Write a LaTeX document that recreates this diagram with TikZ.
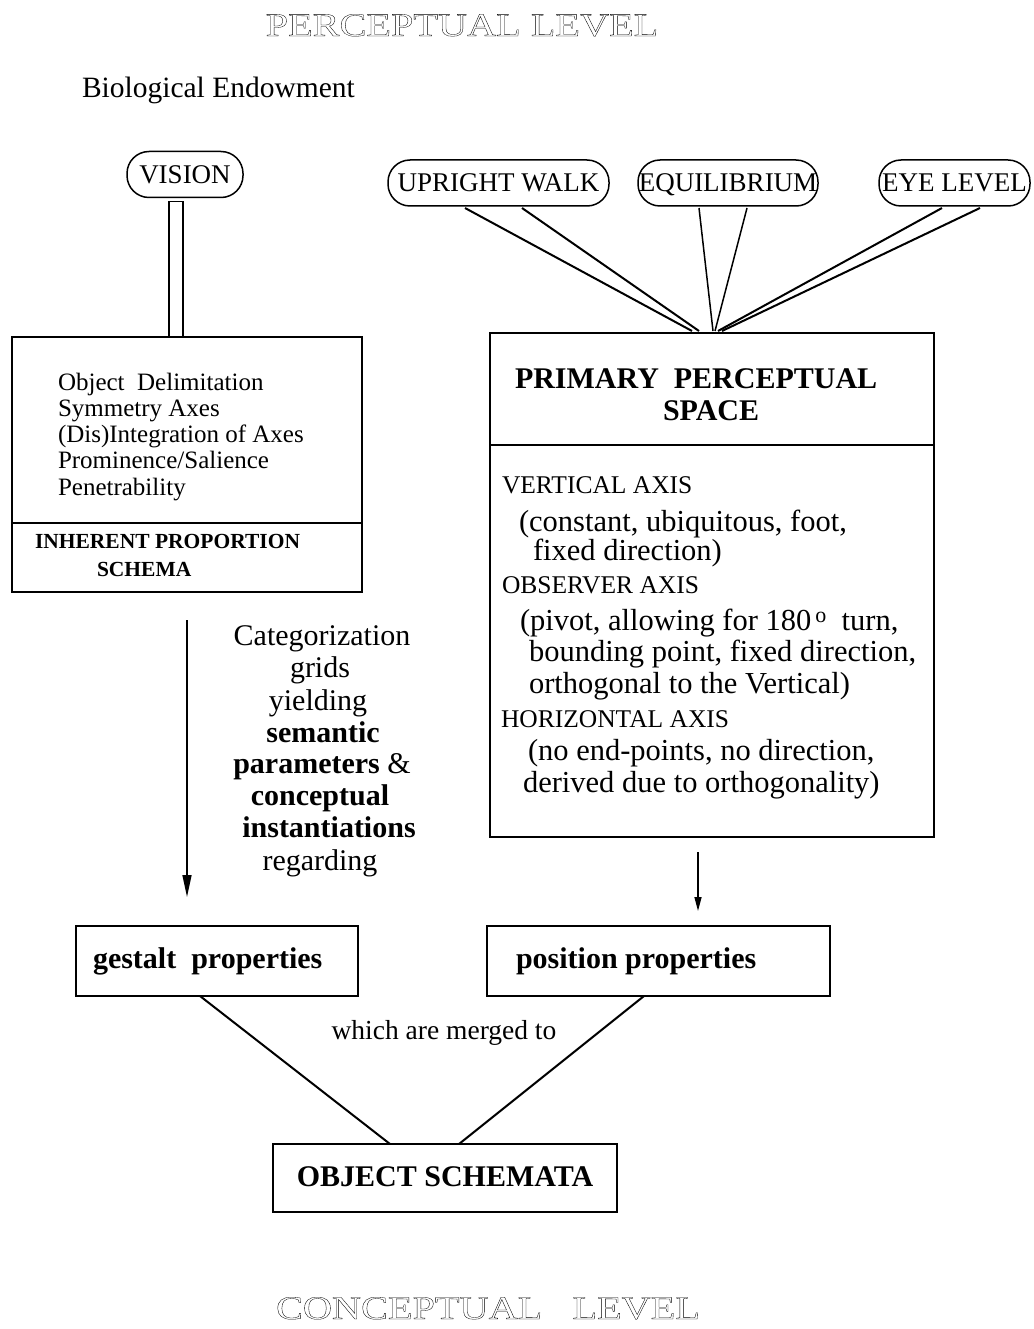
\documentclass[tikz,border=0pt]{standalone}
\usepackage{fontspec}
\setmainfont{Liberation Serif}
\usetikzlibrary{calc,arrows.meta}
% outlined (hollow) letters for the level titles
\newcommand\hollowtext[1]{\special{pdf:literal direct 1 Tr 0.3 w}#1\special{pdf:literal direct 0 Tr}}
\newcommand\fs[1]{\fontsize{#1}{#1}\selectfont}

\begin{document}
\begin{tikzpicture}[x=1pt,y=-1pt,
  every node/.style={inner sep=0pt, outer sep=0pt},
  frame/.style={draw, line width=1.8pt},
  pill/.style={draw, line width=1.5pt, rounded corners=22pt, minimum height=46pt,
               text height=18pt, text depth=0pt, font=\fs{27}},
  link/.style={line width=2pt},
  thinlink/.style={line width=1.5pt},
  txt/.style={anchor=base west},
  ctr/.style={anchor=base},
  body/.style={font=\fs{25}},
  paren/.style={font=\fs{30.5}},
  axislabel/.style={font=\fs{25.5}},
  cat/.style={font=\fs{30}},
  catb/.style={font=\fs{30}\bfseries},
  heading/.style={font=\fs{30}\bfseries},
  level/.style={font=\fs{33}}
]
\useasboundingbox (0,0) rectangle (1033,1329);

% ---------- titles ----------
\node[ctr, level] (perc) at (462,36) {\scalebox{1.22}[1]{\hollowtext{PERCEPTUAL LEVEL}}};
\node[ctr, level] (conc) at (488,1319) {\scalebox{1.22}[1]{\hollowtext{CONCEPTUAL\ \ \ LEVEL}}};
\node[txt, font=\fs{29.5}] (bio) at (82,98) {Biological Endowment};

% ---------- endowment ovals ----------
\node[pill, minimum width=116pt] (vision) at (185,174.5) {VISION};
\node[pill, minimum width=221pt] (uw) at (498.5,183) {UPRIGHT WALK};
\node[pill, minimum width=180pt] (eq) at (728,183) {EQUILIBRIUM};
\node[pill, minimum width=151pt] (el) at (954.5,183) {EYE LEVEL};

% ---------- inherent proportion schema ----------
\node[frame, minimum width=350pt, minimum height=255pt] (ipbox) at (187,464.5) {};
\coordinate (ldiv) at (12,523);
\draw[frame] (ldiv) -- (ldiv -| ipbox.east);
\node[txt, body] (g1) at (58,390) {Object\ \ Delimitation};
\node[txt, body] (g2) at (58,416) {Symmetry Axes};
\node[txt, body] (g3) at (58,442) {(Dis)Integration of Axes};
\node[txt, body] (g4) at (58,468) {Prominence/Salience};
\node[txt, body] (g5) at (58,495) {Penetrability};
\node[txt, font=\fs{21.5}\bfseries] (ips1) at (35,548) {INHERENT PROPORTION};
\node[txt, font=\fs{21.5}\bfseries] (ips2) at (97,576) {SCHEMA};

% vision feeds the schema through a hollow bar
\draw[line width=1.5pt] ($(vision.south)+(-16,4)$) rectangle ($(ipbox.north)+(-4,0)$);

% ---------- primary perceptual space ----------
\node[frame, minimum width=444pt, minimum height=504pt] (pps) at (712,585) {};
\coordinate (rdiv) at (490,445);
\draw[frame] (rdiv) -- (rdiv -| pps.east);
\node[txt, heading] (pp1) at (515,388) {PRIMARY\ \ PERCEPTUAL};
\node[txt, heading] (pp2) at (663,420) {SPACE};

\node[txt, axislabel] (va) at (502,493) {VERTICAL AXIS};
\node[txt, paren] (va1) at (519,531) {(constant, ubiquitous, foot,};
\node[txt, paren] (va2) at (533,560) {fixed direction)};
\node[txt, axislabel] (oa) at (502,593) {OBSERVER AXIS};
\node[txt, paren] (oa1) at (520,630) {(pivot, allowing for 180\kern4pt\raisebox{8pt}{\fs{22}o}\ \ turn,};
\node[txt, paren] (oa2) at (529,661) {bounding point, fixed direction,};
\node[txt, paren] (oa3) at (529,693) {orthogonal to the Vertical)};
\node[txt, axislabel] (ha) at (501,727) {HORIZONTAL AXIS};
\node[txt, paren] (ha1) at (528,760) {(no end-points, no direction,};
\node[txt, paren] (ha2) at (523,792) {derived due to orthogonality)};

% converging lines from the endowment ovals
\draw[link] ($(uw.south)+(-33.5,2)$) -- ($(pps.north)+(-20,-2)$);
\draw[link] ($(uw.south)+(23.5,2)$) -- ($(pps.north)+(-13,-2)$);
\draw[thinlink] ($(eq.south)+(-29,2)$) -- ($(pps.north)+(1,-2)$);
\draw[thinlink] ($(eq.south)+(19,2)$) -- ($(pps.north)+(3,-2)$);
\draw[link] ($(el.south)+(-12.5,2)$) -- ($(pps.north)+(6,-2)$);
\draw[link] ($(el.south)+(25.5,2)$) -- ($(pps.north)+(10,-2)$);

% ---------- categorization text ----------
\node[ctr, cat] (c1) at (322,645) {Categorization};
\node[ctr, cat] (c2) at (320,677) {grids};
\node[ctr, cat] (c3) at (318,710) {yielding};
\node[ctr, catb] (c4) at (323,742) {semantic};
\node[ctr, cat] (c5) at (322,773) {\textbf{parameters} \&};
\node[ctr, catb] (c6) at (320,805) {conceptual};
\node[ctr, catb] (c7) at (329,837) {instantiations};
\node[ctr, cat] (c8) at (320,870) {regarding};

% ---------- properties ----------
\node[frame, minimum width=282pt, minimum height=70pt] (gestalt) at (217,961) {};
\node[txt, heading] (gt) at (93,968) {gestalt\ \ properties};
\node[frame, minimum width=343pt, minimum height=70pt] (position) at (658.5,961) {};
\node[txt, heading] (pt) at (516,968) {position properties};

\coordinate (la1) at (187,620);
\coordinate (la2) at (187,897);
\draw[line width=1.5pt, -{Triangle[length=22pt,width=9pt]}] (la1) -- (la2);
\coordinate (ra1) at (698,852);
\coordinate (ra2) at (698,911);
\draw[line width=1.5pt, -{Triangle[length=14pt,width=7pt]}] (ra1) -- (ra2);

% ---------- object schemata ----------
\node[frame, minimum width=344pt, minimum height=68pt] (obj) at (445,1178) {};
\node[ctr, heading] (ot) at (445,1186) {OBJECT SCHEMATA};
\node[ctr, font=\fs{27.5}] (merge) at (444,1039) {which are merged to};
\draw[link] ($(gestalt.south)+(-17,0)$) -- ($(obj.north)+(-55,0)$);
\draw[link] ($(position.south)+(-14.5,0)$) -- ($(obj.north)+(14,0)$);
\end{tikzpicture}
\end{document}
